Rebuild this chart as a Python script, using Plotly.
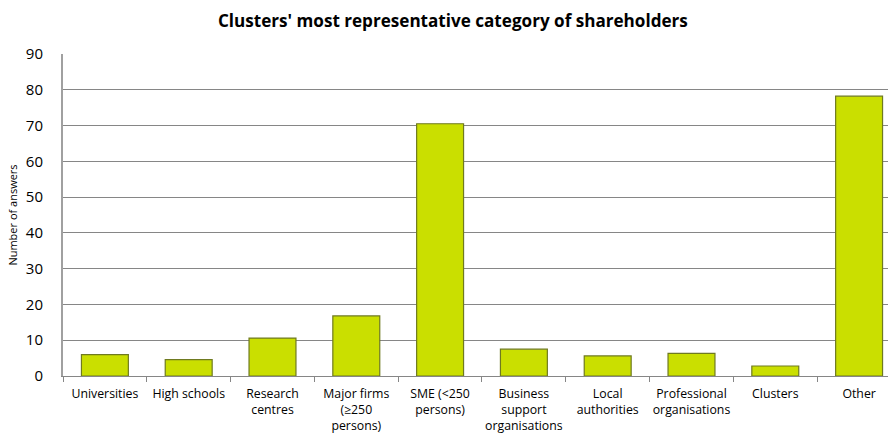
import plotly.graph_objects as go

categories = [
    "Universities", "High schools", "Research<br>centres",
    "Major firms<br>(≥250<br>persons)", "SME (&lt;250<br>persons)",
    "Business<br>support<br>organisations", "Local<br>authorities",
    "Professional<br>organisations", "Clusters", "Other",
]
answers = [6.0, 4.6, 10.6, 16.8, 70.5, 7.5, 5.6, 6.3, 2.8, 78.2]
y_ticks = [0, 10, 20, 30, 40, 50, 60, 70, 80, 90]

fig = go.Figure(
    go.Bar(
        x=categories,
        y=answers,
        width=0.56,
        marker=dict(color="#cadf00", line=dict(color="#6f7a20", width=1.2)),
    )
)

fig.update_layout(
    width=888,
    height=437,
    margin=dict(l=63, r=0, t=54, b=61),
    paper_bgcolor="white",
    plot_bgcolor="white",
    showlegend=False,
    title=dict(
        text="<b>Clusters' most representative category of shareholders</b>",
        x=0.51, xanchor="center", y=0.952, yanchor="middle",
        font=dict(family="Open Sans", size=17.1, color="#000000"),
    ),
    font=dict(family="Open Sans", color="#000000"),
)

fig.update_xaxes(
    type="category",
    range=[-0.5, 9.345],
    automargin=False,
    tickangle=0,
    showline=True, linecolor="#868686", linewidth=1,
    ticks="outside", tickson="boundaries", ticklen=5, tickcolor="#868686",
    tickfont=dict(size=12.3, color="#000000"),
    ticklabelstandoff=6,
    showgrid=False,
)

fig.update_yaxes(
    range=[0, 90],
    automargin=False,
    tickvals=y_ticks,
    showline=True, linecolor="#a0a0a0", linewidth=2,
    showgrid=True, gridcolor="#868686", gridwidth=1,
    ticks="", tickfont=dict(size=15, color="#000000"),
    ticklabelstandoff=15,
    title=dict(text="Number of answers", font=dict(size=11, color="#000000"), standoff=6),
    zeroline=False,
)

fig.write_html("out.html")
